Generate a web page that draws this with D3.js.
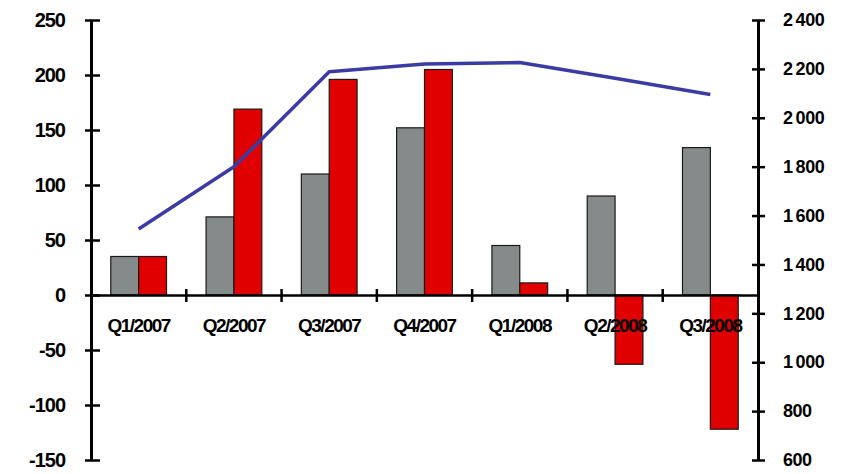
<!DOCTYPE html>
<html>
<head>
<meta charset="utf-8">
<script src="https://cdn.jsdelivr.net/npm/d3@7"></script>
<style>
  html, body { margin: 0; padding: 0; background: #fff; }
  svg { display: block; }
  text { font-family: "Liberation Sans", Arial, sans-serif; font-weight: bold; fill: #000; }
</style>
</head>
<body>
<svg id="chart" width="858" height="474"></svg>
<script>
// Quarterly figures: two bar series on the left axis, one line on the right axis
const quarters = ["Q1/2007", "Q2/2007", "Q3/2007", "Q4/2007", "Q1/2008", "Q2/2008", "Q3/2008"];
const greySeries = [35, 71, 110, 152, 45, 90, 134];
const redSeries = [35, 169, 196, 205, 11, -63, -122];
const lineSeries = [1545, 1800, 2188, 2220, 2226, 2162, 2095];

const leftTicks = [250, 200, 150, 100, 50, 0, -50, -100, -150];
const rightTicks = [2400, 2200, 2000, 1800, 1600, 1400, 1200, 1000, 800, 600];

const svg = d3.select("#chart");
const plot = { left: 91, right: 758, top: 20, bottom: 460 };

const yLeft = d3.scaleLinear().domain([-150, 250]).range([plot.bottom, plot.top]);
const yRight = d3.scaleLinear().domain([600, 2400]).range([plot.bottom, plot.top]);
const x0 = d3.scaleBand().domain(quarters).range([plot.left, plot.right]).padding(0);
const groupW = x0.bandwidth() * 0.585;
const x1 = d3.scaleBand().domain(["grey", "red"]).range([0, groupW]).padding(0);

const barData = quarters.map((q, i) => ({ q, grey: greySeries[i], red: redSeries[i] }));
const colors = { grey: "#858b8b", red: "#e00000" };

// bars
const groups = svg.append("g").selectAll("g").data(barData).join("g")
  .attr("transform", d => `translate(${x0(d.q) + (x0.bandwidth() - groupW) / 2},0)`);
groups.selectAll("rect")
  .data(d => ["grey", "red"].map(k => ({ k, v: d[k] })))
  .join("rect")
  .attr("x", d => x1(d.k))
  .attr("width", x1.bandwidth())
  .attr("y", d => yLeft(Math.max(0, d.v)))
  .attr("height", d => Math.abs(yLeft(d.v) - yLeft(0)))
  .attr("fill", d => colors[d.k])
  .attr("stroke", "#1a1a1a")
  .attr("stroke-width", 1.2);

// left axis (plain hyphen for negatives)
const axL = svg.append("g").attr("transform", `translate(${plot.left},0)`)
  .call(d3.axisLeft(yLeft).tickValues(leftTicks).tickSize(0).tickPadding(26).tickFormat(v => String(v)));
axL.select(".domain").attr("stroke", "#000").attr("stroke-width", 3);
axL.selectAll("text").style("font-size", "20px").attr("letter-spacing", "-1");
axL.selectAll(".tick").append("line").attr("x1", -6).attr("x2", 9).attr("stroke", "#000").attr("stroke-width", 2.5);

// right axis with space-grouped thousands
const spaceFmt = v => d3.format(",")(v).replace(/,/g, "\u2009");
const axR = svg.append("g").attr("transform", `translate(${plot.right},0)`)
  .call(d3.axisRight(yRight).tickValues(rightTicks).tickSize(0).tickPadding(25).tickFormat(spaceFmt));
axR.select(".domain").attr("stroke", "#000").attr("stroke-width", 3);
axR.selectAll("text").style("font-size", "18px").attr("letter-spacing", "-0.5");
axR.selectAll(".tick").append("line").attr("x1", -6).attr("x2", 7).attr("stroke", "#000").attr("stroke-width", 2.5);

// category axis along zero
const axX = svg.append("g").attr("transform", `translate(0,${yLeft(0)})`)
  .call(d3.axisBottom(x0).tickSize(0).tickPadding(24));
axX.select(".domain").attr("stroke", "#000").attr("stroke-width", 2.5);
axX.selectAll("text").style("font-size", "19px").attr("letter-spacing", "-1.5");
axX.append("g").selectAll("line").data(quarters.slice(1)).join("line")
  .attr("x1", d => x0(d)).attr("x2", d => x0(d))
  .attr("y1", -6).attr("y2", 7)
  .attr("stroke", "#000").attr("stroke-width", 2.5);

// line on the right axis
const line = d3.line()
  .x((d, i) => x0(quarters[i]) + x0.bandwidth() / 2)
  .y(d => yRight(d));
svg.append("path").datum(lineSeries)
  .attr("d", line)
  .attr("fill", "none")
  .attr("stroke", "#3b3ba6")
  .attr("stroke-width", 3.5)
  .attr("stroke-linejoin", "round");
</script>
</body>
</html>
